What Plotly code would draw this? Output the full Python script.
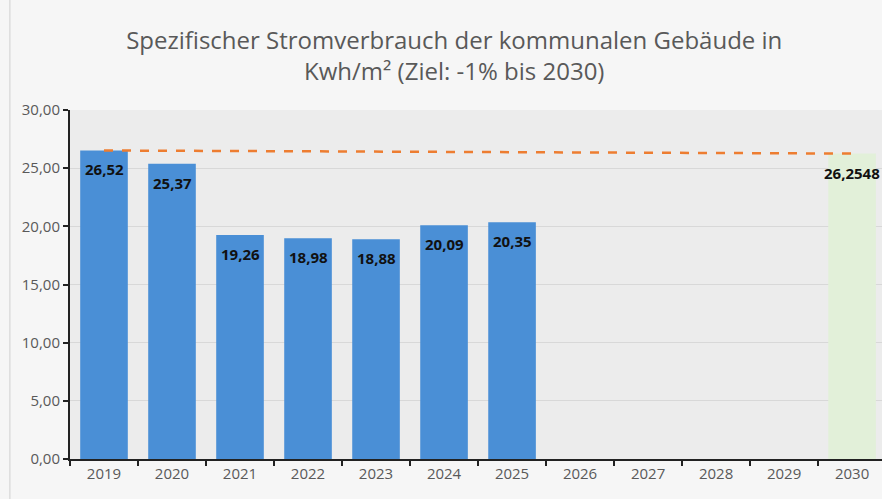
import plotly.graph_objects as go

years = ["2019", "2020", "2021", "2022", "2023", "2024", "2025", "2026", "2027", "2028", "2029", "2030"]
actual = [26.52, 25.37, 19.26, 18.98, 18.88, 20.09, 20.35, None, None, None, None, None]
target_year = ["2030"]
target_val = [26.2548]
trend_x = ["2019", "2030"]
trend_y = [26.52, 26.2548]

def fmt(v, d=2):
    return f"{v:.{d}f}".replace(".", ",")

LABEL_FONT = dict(family="Open Sans", size=15, color="#111111", weight="bold")

fig = go.Figure()
fig.add_trace(go.Bar(
    x=years, y=actual, width=0.7,
    marker=dict(color="#4a8fd6", line=dict(width=0)),
    showlegend=False,
))
fig.add_trace(go.Bar(
    x=target_year, y=target_val, width=0.7,
    marker=dict(color="#e2f0d9", line=dict(width=0)),
    showlegend=False,
))
fig.add_trace(go.Scatter(
    x=trend_x, y=trend_y, mode="lines",
    line=dict(color="#ed7d31", width=2.5, dash="dash"),
    showlegend=False,
))

for x, v in zip(years, actual):
    if v is not None:
        fig.add_annotation(x=years.index(x), y=v, text=fmt(v), showarrow=False, yshift=-19,
                           font=LABEL_FONT)
for x, v in zip(target_year, target_val):
    fig.add_annotation(x=years.index(x), y=v, text=fmt(v, 4), showarrow=False, yshift=-19,
                       font=LABEL_FONT)

fig.update_layout(
    width=882, height=499,
    margin=dict(l=70, r=0, t=110, b=40),
    paper_bgcolor="#f6f6f6", plot_bgcolor="#ececec",
    barmode="overlay",
    separators=",.",
    title=dict(
        text="Spezifischer Stromverbrauch der kommunalen Gebäude in<br>Kwh/m² (Ziel: -1% bis 2030)",
        x=0.515, xanchor="center", y=0.902, yanchor="top",
        font=dict(family="Open Sans", size=24, color="#595959"),
    ),
    xaxis=dict(
        type="category", categoryorder="array", categoryarray=years,
        range=[-0.5, 11.44],
        showline=True, linecolor="#222222", linewidth=2,
        ticks="outside", ticklen=5, tickcolor="#222222", tickwidth=2,
        tickson="boundaries",
        tickfont=dict(family="Open Sans", size=15, color="#595959"),
        showgrid=False,
    ),
    yaxis=dict(
        range=[0, 30], tick0=0, dtick=5, tickformat=".2f",
        showline=True, linecolor="#222222", linewidth=2,
        ticks="outside", ticklen=5, tickcolor="#222222", tickwidth=2,
        gridcolor="#d8d8d8", gridwidth=1, zeroline=False,
        tickfont=dict(family="Open Sans", size=15, color="#595959"),
    ),
    font=dict(family="Open Sans"),
)
fig.add_shape(type="rect", xref="paper", yref="paper", x0=-0.074, x1=1.01, y0=-0.12, y1=1.35,
              line=dict(color="#d0d0d0", width=1), fillcolor="rgba(0,0,0,0)", layer="below")

fig.write_html("out.html", config={"displayModeBar": False},
               post_script="document.body.style.margin='0';document.body.style.overflow='hidden';")
